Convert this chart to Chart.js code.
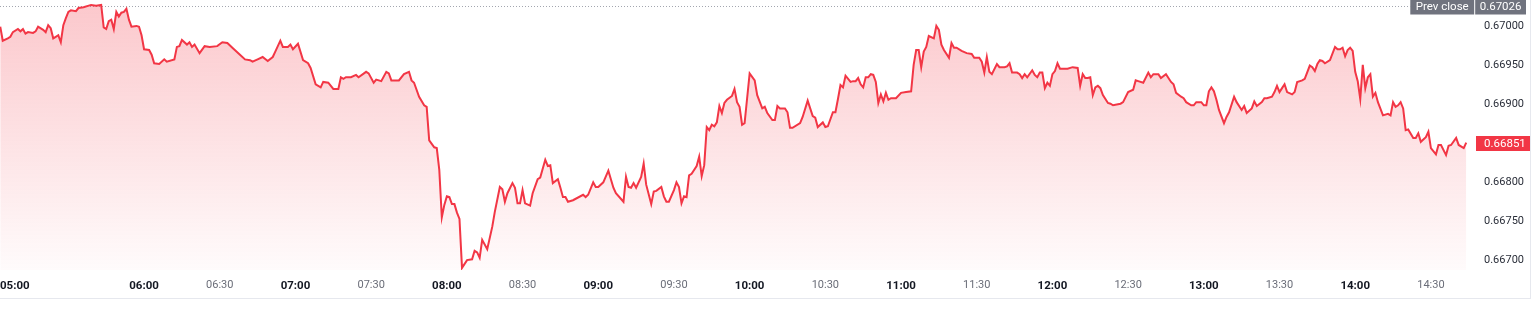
<!DOCTYPE html>
<html><head><meta charset="utf-8">
<script src="https://cdn.jsdelivr.net/npm/chart.js@4.4.1/dist/chart.umd.min.js"></script>
<style>
html,body{margin:0;padding:0;background:#fff;}
#wrap{position:absolute;left:0;top:0;width:1530px;height:298px;border-right:1px solid #e6e8ee;border-bottom:1px solid #e6e8ee;}
canvas{display:block;}
</style></head><body>
<div id="wrap"><canvas id="c" width="1530" height="298"></canvas></div>
<script>
const times = [
'05:03','05:04','05:06','05:07','05:08','05:10','05:11','05:12','05:13','05:14','05:16','05:17','05:18','05:20','05:21','05:22','05:23','05:24','05:25','05:26','05:27','05:28','05:29','05:30','05:31','05:33','05:34','05:36','05:39','05:41','05:43','05:44','05:45','05:46','05:47','05:48','05:49','05:50','05:51','05:52','05:53','05:54','05:55','05:57','05:58','05:59',
'06:00','06:02','06:03','06:04','06:06','06:08','06:09','06:12','06:13','06:14','06:15','06:17','06:18','06:19','06:20','06:22','06:24','06:26','06:29','06:31','06:33','06:35','06:38','06:40','06:42','06:43','06:45','06:47','06:49','06:51','06:52','06:54','06:55','06:57','06:58','06:59',
'07:01','07:03','07:05','07:06','07:08','07:10','07:11','07:13','07:15','07:17','07:18','07:19','07:20','07:22','07:24','07:25','07:28','07:29','07:31','07:32','07:34','07:36','07:37','07:38','07:41','07:43','07:45','07:46','07:47','07:49','07:51','07:52','07:53','07:55','07:56','07:57','07:58','07:59',
'08:00','08:01','08:02','08:03','08:04','08:05','08:06','08:08','08:10','08:11','08:12','08:13','08:14','08:16','08:18','08:19','08:21','08:22','08:23','08:24','08:26','08:27','08:28','08:29','08:30','08:31','08:33','08:34','08:36','08:37','08:39','08:40','08:41','08:42','08:44','08:45','08:46','08:47','08:48','08:50','08:54','08:55','08:56','08:58','08:59',
'09:00','09:02','09:04','09:06','09:07','09:10','09:11','09:12','09:13','09:14','09:15','09:17','09:18','09:19','09:21','09:22','09:23','09:25','09:26','09:27','09:28','09:30','09:31','09:32','09:33','09:34','09:35','09:36','09:37','09:39','09:40','09:41','09:42','09:43','09:44','09:45','09:46','09:47','09:48','09:49','09:50','09:51','09:53','09:54','09:55','09:56','09:57','09:58',
'10:00','10:02','10:03','10:05','10:06','10:07','10:09','10:10','10:11','10:12','10:14','10:15','10:16','10:17','10:20','10:21','10:23','10:25','10:26','10:27','10:29','10:30','10:31','10:33','10:34','10:35','10:36','10:37','10:38','10:40','10:41','10:42','10:43','10:44','10:45','10:46','10:47','10:48','10:49','10:50','10:51','10:52','10:53','10:54','10:55','10:56','10:58',
'11:00','11:02','11:04','11:05','11:06','11:07','11:08','11:09','11:10','11:11','11:13','11:14','11:15','11:16','11:17','11:19','11:20','11:21','11:22','11:24','11:26','11:28','11:29','11:31','11:32','11:33','11:34','11:35','11:36','11:38','11:39','11:41','11:42','11:43','11:44','11:46','11:47','11:48','11:49','11:50','11:52','11:53','11:54','11:55','11:56','11:57','11:58','11:59',
'12:00','12:01','12:02','12:03','12:05','12:06','12:08','12:10','12:11','12:12','12:13','12:14','12:15','12:16','12:17','12:18','12:19','12:20','12:22','12:23','12:24','12:27','12:28','12:30','12:32','12:33','12:34','12:36','12:38','12:39','12:40','12:42','12:43','12:45','12:47','12:48','12:49','12:51','12:52','12:53','12:55','12:56','12:57','12:59',
'13:00','13:01','13:02','13:03','13:04','13:05','13:06','13:08','13:09','13:10','13:12','13:13','13:15','13:16','13:17','13:19','13:20','13:21','13:23','13:24','13:25','13:27','13:28','13:29','13:30','13:31','13:32','13:33','13:35','13:36','13:37','13:39','13:40','13:42','13:43','13:44','13:45','13:46','13:47','13:48','13:50','13:52','13:53','13:54','13:55','13:56','13:57','13:58','13:59',
'14:00','14:01','14:02','14:03','14:04','14:05','14:06','14:07','14:08','14:09','14:11','14:13','14:14','14:15','14:16','14:17','14:18','14:19','14:20','14:21','14:23','14:24','14:25','14:26','14:28','14:29','14:30','14:32','14:33','14:34','14:36','14:37','14:38','14:40','14:41','14:43','14:44'
];
const prices = [
0.67000,0.66982,0.66985,0.66987,0.66993,0.66997,0.66994,0.66997,0.66991,0.66993,0.66992,0.66994,0.67000,0.66996,0.66993,0.67002,0.66998,0.66985,0.66987,0.66989,0.66980,0.67002,0.67011,0.67019,0.67021,0.67020,0.67024,0.67025,0.67028,0.67027,0.67028,0.66999,0.66997,0.67007,0.67009,0.66997,0.67019,0.67013,0.67018,0.67019,0.67023,0.67009,0.67000,0.67001,0.67000,0.66989,
0.66971,0.66970,0.66964,0.66953,0.66952,0.66958,0.66955,0.66958,0.66974,0.66975,0.66983,0.66977,0.66980,0.66974,0.66977,0.66966,0.66975,0.66974,0.66975,0.66980,0.66979,0.66973,0.66964,0.66958,0.66957,0.66955,0.66958,0.66961,0.66956,0.66961,0.66968,0.66982,0.66974,0.66974,0.66977,0.66971,
0.66978,0.66957,0.66953,0.66947,0.66926,0.66922,0.66929,0.66928,0.66920,0.66920,0.66935,0.66933,0.66935,0.66935,0.66938,0.66935,0.66942,0.66940,0.66928,0.66932,0.66930,0.66942,0.66940,0.66931,0.66931,0.66939,0.66942,0.66931,0.66928,0.66910,0.66899,0.66897,0.66854,0.66845,0.66844,0.66816,0.66755,0.66771,
0.66782,0.66781,0.66772,0.66772,0.66761,0.66753,0.66690,0.66700,0.66701,0.66712,0.66710,0.66703,0.66726,0.66714,0.66743,0.66762,0.66794,0.66791,0.66775,0.66786,0.66799,0.66793,0.66773,0.66773,0.66790,0.66773,0.66770,0.66786,0.66804,0.66806,0.66829,0.66821,0.66822,0.66799,0.66804,0.66793,0.66781,0.66781,0.66775,0.66777,0.66784,0.66781,0.66784,0.66800,0.66794,
0.66794,0.66800,0.66815,0.66793,0.66786,0.66775,0.66807,0.66794,0.66793,0.66799,0.66793,0.66807,0.66824,0.66797,0.66772,0.66788,0.66789,0.66794,0.66782,0.66775,0.66775,0.66790,0.66800,0.66794,0.66773,0.66782,0.66781,0.66809,0.66811,0.66821,0.66833,0.66808,0.66822,0.66871,0.66867,0.66874,0.66872,0.66877,0.66898,0.66889,0.66902,0.66906,0.66911,0.66920,0.66903,0.66897,0.66874,0.66876,
0.66940,0.66931,0.66912,0.66895,0.66897,0.66889,0.66880,0.66880,0.66898,0.66895,0.66895,0.66890,0.66870,0.66870,0.66876,0.66884,0.66905,0.66885,0.66883,0.66871,0.66877,0.66871,0.66872,0.66890,0.66890,0.66907,0.66925,0.66922,0.66937,0.66929,0.66930,0.66930,0.66934,0.66926,0.66922,0.66935,0.66935,0.66939,0.66938,0.66929,0.66902,0.66913,0.66904,0.66915,0.66906,0.66908,0.66908,
0.66915,0.66916,0.66917,0.66951,0.66970,0.66970,0.66948,0.66968,0.66974,0.66988,0.66985,0.67001,0.66996,0.66977,0.66970,0.66960,0.66979,0.66973,0.66973,0.66969,0.66966,0.66965,0.66960,0.66960,0.66955,0.66941,0.66961,0.66942,0.66939,0.66952,0.66948,0.66948,0.66949,0.66953,0.66941,0.66941,0.66939,0.66934,0.66939,0.66935,0.66944,0.66938,0.66935,0.66941,0.66941,0.66921,0.66928,0.66924,
0.66939,0.66943,0.66953,0.66946,0.66946,0.66946,0.66948,0.66947,0.66924,0.66939,0.66934,0.66934,0.66935,0.66912,0.66922,0.66924,0.66921,0.66912,0.66902,0.66901,0.66899,0.66901,0.66903,0.66916,0.66919,0.66931,0.66930,0.66928,0.66941,0.66935,0.66939,0.66939,0.66934,0.66939,0.66929,0.66926,0.66915,0.66910,0.66908,0.66903,0.66899,0.66899,0.66903,0.66903,
0.66899,0.66899,0.66917,0.66922,0.66917,0.66906,0.66893,0.66876,0.66884,0.66890,0.66910,0.66903,0.66893,0.66898,0.66889,0.66895,0.66904,0.66898,0.66903,0.66908,0.66908,0.66910,0.66916,0.66924,0.66916,0.66921,0.66926,0.66916,0.66913,0.66916,0.66929,0.66931,0.66933,0.66950,0.66948,0.66943,0.66952,0.66957,0.66956,0.66953,0.66957,0.66974,0.66971,0.66971,0.66973,0.66962,0.66970,0.66973,0.66969,
0.66942,0.66930,0.66907,0.66951,0.66921,0.66935,0.66939,0.66910,0.66915,0.66903,0.66886,0.66888,0.66886,0.66903,0.66897,0.66899,0.66903,0.66895,0.66867,0.66868,0.66857,0.66857,0.66863,0.66852,0.66858,0.66865,0.66844,0.66836,0.66848,0.66848,0.66835,0.66847,0.66848,0.66857,0.66848,0.66844,0.66851
];
const xTickLabels = ['06:00','06:30','07:00','07:30','08:00','08:30','09:00','09:30','10:00','10:30','11:00','11:30','12:00','12:30','13:00','13:30','14:00','14:30'];
const firstTickLabel = '05:00';
const yTicks = [0.66700,0.66750,0.66800,0.66900,0.66950,0.67000];
const prevClose = 0.67026;
const prevCloseText = 'Prev close';

const X_MIN = 302.9, X_MAX = 884.7;      // visible time window (minutes)
const Y_MIN = 0.666873, Y_MAX = 0.670343; // visible price window

const toMin = s => { const p = s.split(':'); return (+p[0]) * 60 + (+p[1]); };
const fmt = v => { const h = Math.floor(v / 60), m = Math.round(v % 60); return String(h).padStart(2,'0') + ':' + String(m).padStart(2,'0'); };
const FONT = 'Roboto';
const RED = '#f23645';

const points = times.map((t, i) => ({ x: toMin(t), y: prices[i] }));
const lastPrice = prices[prices.length - 1];

const overlay = {
  id: 'overlay',
  beforeDatasetsDraw(ch) {
    const c = ch.ctx, a = ch.chartArea, ys = ch.scales.y;
    const py = Math.round(ys.getPixelForValue(prevClose)) + 0.5;
    c.save();
    c.font = '11.5px ' + FONT;
    const valTxt = prevClose.toFixed(5);
    const vw = c.measureText(valTxt).width, pw = c.measureText(prevCloseText).width;
    const vRight = a.right + 58, vLeft = vRight - vw - 9;
    const pRight = vLeft - 1, pLeft = pRight - pw - 11;
    c.strokeStyle = '#a3a6af'; c.lineWidth = 1; c.setLineDash([1, 2]);
    c.beginPath(); c.moveTo(a.left, py); c.lineTo(pLeft, py); c.stroke();
    c.restore();
    ch.$prevBox = { py, vLeft, vRight, pLeft, pRight, valTxt };
  },
  afterDraw(ch) {
    const c = ch.ctx, a = ch.chartArea, ys = ch.scales.y, b = ch.$prevBox;
    c.save();
    c.font = '11.5px ' + FONT;
    c.textBaseline = 'middle';
    const cy = b.py;
    c.fillStyle = '#70737e';
    c.fillRect(b.pLeft, cy - 7, b.pRight - b.pLeft, 15);
    c.fillRect(b.vLeft, cy - 7, b.vRight - b.vLeft, 15);
    c.fillStyle = '#ffffff';
    c.textAlign = 'center';
    c.fillText(prevCloseText, (b.pLeft + b.pRight) / 2, cy + 1);
    c.fillText(b.valTxt, (b.vLeft + b.vRight) / 2, cy + 1);
    const ly = Math.round(ys.getPixelForValue(lastPrice));
    c.fillStyle = RED;
    c.fillRect(a.right + 8, ly - 7, ch.width - a.right - 8, 15);
    c.fillStyle = '#ffffff';
    c.textAlign = 'left';
    c.fillText(lastPrice.toFixed(5), a.right + 16, ly + 1);
    const xs = ch.scales.x;
    c.font = 'bold 11.5px ' + FONT;
    c.fillStyle = '#131722';
    c.textAlign = 'left';
    c.fillText(firstTickLabel, a.left, xs.top + 9 + 6.9);
    c.restore();
  }
};

new Chart(document.getElementById('c'), {
  type: 'line',
  data: { datasets: [{
    data: points,
    borderColor: RED,
    borderWidth: 2,
    pointRadius: 0,
    tension: 0,
    fill: 'start',
    backgroundColor: (ctx) => {
      const ch = ctx.chart, a = ch.chartArea;
      if (!a) return 'rgba(242,54,69,0.15)';
      const g = ch.ctx.createLinearGradient(0, a.top, 0, a.bottom);
      g.addColorStop(0, 'rgba(242,54,69,0.28)');
      g.addColorStop(1, 'rgba(242,54,69,0.02)');
      return g;
    }
  }]},
  options: {
    responsive: false,
    animation: false,
    layout: { padding: 0 },
    plugins: { legend: { display: false }, tooltip: { enabled: false } },
    scales: {
      x: {
        type: 'linear', min: X_MIN, max: X_MAX,
        grid: { display: false, drawTicks: false },
        border: { display: false },
        afterBuildTicks: s => { s.ticks = xTickLabels.map(l => ({ value: toMin(l) })); },
        afterFit: s => { s.height = 28; s.paddingLeft = 0; s.paddingRight = 0; },
        ticks: {
          autoSkip: false, maxRotation: 0, minRotation: 0, padding: 9,
          callback: v => fmt(v),
          font: c => ({ family: FONT, size: (c.tick && c.tick.value % 60 === 0) ? 11.5 : 11, weight: (c.tick && c.tick.value % 60 === 0) ? 'bold' : 'normal' }),
          color: c => (c.tick && c.tick.value % 60 === 0) ? '#131722' : '#6a6d78'
        }
      },
      y: {
        position: 'right', min: Y_MIN, max: Y_MAX,
        grid: { display: false, drawTicks: false },
        border: { display: false },
        afterBuildTicks: s => { s.ticks = yTicks.map(v => ({ value: v })); },
        afterFit: s => { s.width = 62; s.paddingTop = 0; s.paddingBottom = 0; },
        ticks: { padding: 16, callback: v => v.toFixed(5), font: { family: FONT, size: 11 }, color: '#2a2e39' }
      }
    }
  },
  plugins: [overlay]
});
</script>
</body></html>
